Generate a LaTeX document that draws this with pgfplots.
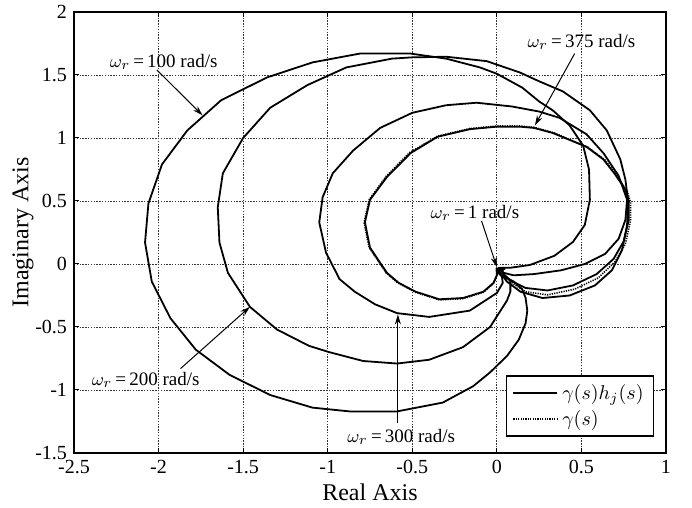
\documentclass[border=0pt]{standalone}
\usepackage{fontspec}
\setmainfont{Liberation Serif}
\usepackage{pgfplots}
\pgfplotsset{compat=1.18}
\usetikzlibrary{arrows.meta}

\begin{document}
\begin{tikzpicture}
\begin{axis}[
  scale only axis, width=296pt, height=220.5pt,
  xmin=-2.5, xmax=1, ymin=-1.5, ymax=2,
  xtick={-2.5,-2,-1.5,-1,-0.5,0,0.5,1},
  ytick={-1.5,-1,-0.5,0,0.5,1,1.5,2},
  grid=major,
  major grid style={black!80, line width=0.4pt, dash pattern=on 0.7pt off 0.7pt},
  axis line style={line width=0.9pt},
  tick align=inside, major tick length=2.5pt,
  tick style={line width=0.5pt, black},
  /pgf/number format/assume math mode=true,
  ticklabel style={font=\fontsize{10}{12}\selectfont},
  xlabel={Real Axis}, ylabel={Imaginary Axis},
  label style={font=\fontsize{12}{14}\selectfont},
  xlabel style={yshift=2pt},
  ylabel style={yshift=-6pt},
  legend style={at={(0.98,0.037)}, anchor=south east, draw=black,
    line width=0.6pt, font=\fontsize{10}{12}\selectfont,
    inner xsep=3pt, inner ysep=2pt, row sep=0pt},
  legend cell align=left,
  legend image code/.code={\draw[#1] (0pt,0pt) -- (22pt,0pt);},
  every axis plot/.append style={line width=0.9pt, black},
]
% omega_r = 100 rad/s
\addplot[solid] coordinates {
(0.03,-0.03) (0.0,-0.05) (0.03,-0.09) (0.10,-0.14) (0.15,-0.20) (0.17,-0.27) (0.18,-0.37)
(0.17,-0.47) (0.13,-0.60) (0.06,-0.73) (-0.04,-0.86) (-0.14,-0.97)
(-0.32,-1.10) (-0.59,-1.17) (-0.87,-1.17) (-1.09,-1.14) (-1.34,-1.04)
(-1.58,-0.88) (-1.78,-0.68) (-1.93,-0.43) (-2.04,-0.14) (-2.08,0.17)
(-2.06,0.48) (-1.98,0.79) (-1.83,1.06) (-1.63,1.30) (-1.36,1.48)
(-1.09,1.60) (-0.81,1.67) (-0.51,1.67) (-0.30,1.63) (-0.10,1.56)
(0.00,1.51) (0.15,1.40) (0.25,1.29) (0.33,1.22) (0.43,1.10)
(0.51,0.94) (0.545,0.75) (0.55,0.51) (0.52,0.31) (0.45,0.175)
(0.34,0.065) (0.195,-0.008) (0.08,-0.03) (0.02,-0.03)
};
\addlegendentry{$\gamma(s)h_j(s)$}
% omega_r = 200 rad/s
\addplot[solid, forget plot] coordinates {
(0.04,-0.03) (0.0,-0.04) (0.02,-0.08) (0.08,-0.13) (0.08,-0.22) (0.06,-0.29) (-0.04,-0.50) (-0.20,-0.66)
(-0.40,-0.76) (-0.59,-0.79) (-0.79,-0.77) (-0.99,-0.70) (-1.11,-0.65)
(-1.30,-0.52) (-1.46,-0.34) (-1.59,-0.07) (-1.64,0.17) (-1.65,0.45)
(-1.62,0.72) (-1.50,1.00) (-1.34,1.24) (-1.12,1.42) (-0.89,1.56)
(-0.62,1.63) (-0.50,1.64) (-0.30,1.645) (-0.06,1.61) (0.136,1.52)
(0.25,1.45) (0.39,1.37) (0.55,1.22) (0.65,1.06) (0.73,0.83)
(0.76,0.67) (0.775,0.51) (0.77,0.31) (0.74,0.11) (0.68,-0.05)
(0.58,-0.17) (0.43,-0.25) (0.27,-0.27) (0.14,-0.22) (0.06,-0.14)
(0.02,-0.07) (0.01,-0.03)
};
% omega_r = 300 rad/s
\addplot[solid, forget plot] coordinates {
(0.05,-0.04) (0.01,-0.03) (0.0,-0.06) (0.03,-0.10) (0.035,-0.15) (0.0,-0.23) (-0.16,-0.37) (-0.40,-0.42)
(-0.59,-0.39) (-0.72,-0.32) (-0.84,-0.22) (-0.93,-0.12) (-1.01,0.09)
(-1.05,0.33) (-1.03,0.53) (-0.97,0.72) (-0.85,0.90) (-0.69,1.08)
(-0.50,1.20) (-0.30,1.26) (-0.12,1.28) (0.09,1.25) (0.25,1.21)
(0.37,1.16) (0.53,1.03) (0.63,0.88) (0.72,0.70) (0.77,0.51)
(0.76,0.35) (0.72,0.20) (0.64,0.08) (0.52,0.00) (0.38,-0.05)
(0.22,-0.08) (0.10,-0.09) (0.04,-0.07) (0.02,-0.04)
};
% omega_r = 375 rad/s
\addplot[solid, forget plot] coordinates {
(0.04,-0.05) (0.0,-0.05) (0.0,-0.09) (-0.02,-0.15) (-0.08,-0.22) (-0.20,-0.27) (-0.34,-0.28)
(-0.48,-0.22) (-0.58,-0.15) (-0.65,-0.07) (-0.75,0.13) (-0.78,0.33)
(-0.75,0.51) (-0.65,0.69) (-0.51,0.88) (-0.35,1.01) (-0.16,1.07)
(0.0,1.09) (0.136,1.09) (0.22,1.08) (0.33,1.04) (0.53,0.93)
(0.63,0.83) (0.70,0.71) (0.76,0.59) (0.78,0.50) (0.78,0.35)
(0.75,0.18) (0.69,0.04) (0.59,-0.08) (0.45,-0.17) (0.30,-0.21)
(0.17,-0.19) (0.08,-0.13) (0.04,-0.08) (0.02,-0.04)
};
% gamma(s) alone
\addplot[line width=0.8pt, dash pattern=on 0.6pt off 0.6pt] coordinates {
(0.04,-0.05) (0.0,-0.05) (0.0,-0.09) (-0.02,-0.155) (-0.08,-0.225) (-0.20,-0.275) (-0.34,-0.285)
(-0.48,-0.225) (-0.585,-0.15) (-0.655,-0.07) (-0.755,0.13) (-0.785,0.33)
(-0.755,0.51) (-0.655,0.695) (-0.515,0.885) (-0.35,1.015) (-0.16,1.075)
(0.0,1.095) (0.136,1.095) (0.22,1.085) (0.34,1.04) (0.54,0.925)
(0.64,0.825) (0.71,0.70) (0.77,0.58) (0.79,0.49) (0.79,0.34)
(0.76,0.16) (0.70,0.02) (0.60,-0.11) (0.46,-0.20) (0.30,-0.245)
(0.17,-0.22) (0.09,-0.15) (0.04,-0.08) (0.02,-0.04)
};
\addlegendentry{$\gamma(s)$}

% annotations
\begin{scope}[font=\fontsize{9.5}{11}\selectfont]
\node at (axis cs:-1.97,1.603) {$\omega_r$\,=\,100 rad/s};
\node at (axis cs:-2.076,-0.92) {$\omega_r$\,=\,200 rad/s};
\node at (axis cs:-0.565,-1.373) {$\omega_r$\,=\,300 rad/s};
\node at (axis cs:0.50,1.762) {$\omega_r$\,=\,375 rad/s};
\node at (axis cs:-0.13,0.405) {$\omega_r$\,=\,1 rad/s};
\end{scope}
\begin{scope}[line width=0.5pt, -{Stealth[length=5pt,width=3pt]}]
\draw (axis cs:-2.01,1.54) -- (axis cs:-1.74,1.18);
\draw (axis cs:-1.87,-0.83) -- (axis cs:-1.46,-0.34);
\draw (axis cs:-0.585,-1.26) -- (axis cs:-0.585,-0.40);
\draw (axis cs:0.46,1.67) -- (axis cs:0.225,1.10);
\draw (axis cs:-0.09,0.34) -- (axis cs:0.0,-0.024);
\end{scope}
\end{axis}
\pgfresetboundingbox
\path[use as bounding box] (current axis.south west) ++(-37pt,-27.5pt) rectangle ++(346pt,254pt);
\end{tikzpicture}
\end{document}
